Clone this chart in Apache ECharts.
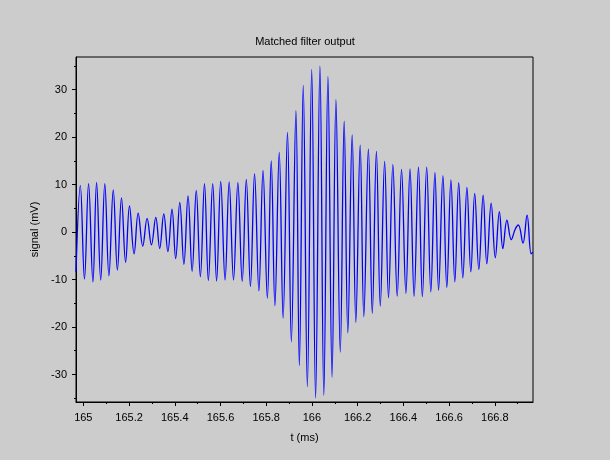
<!DOCTYPE html>
<html>
<head>
<meta charset="utf-8">
<script src="https://cdn.jsdelivr.net/npm/echarts@6/dist/echarts.min.js"></script>
<style>
html,body{margin:0;padding:0;background:#cccccc;}
#c{width:610px;height:460px;}
</style>
</head>
<body>
<div id="c"></div>
<script>
// time (ms) of each extremum
const times = [164.968,164.987,165.005,165.023,165.042,165.058,165.076,165.094,165.112,165.131,
165.149,165.167,165.185,165.202,165.222,165.240,165.260,165.279,165.298,165.317,
165.334,165.352,165.370,165.388,165.404,165.422,165.440,165.458,165.476,165.494,
165.512,165.530,165.547,165.566,165.583,165.601,165.620,165.638,165.657,165.676,
165.695,165.713,165.731,165.749,165.768,165.786,165.805,165.822,165.838,165.857,
165.874,165.893,165.910,165.930,165.945,165.962,165.980,165.999,166.016,166.035,
166.052,166.070,166.088,166.105,166.124,166.141,166.157,166.176,166.192,166.211,
166.227,166.247,166.264,166.282,166.299,166.318,166.335,166.354,166.373,166.392,
166.411,166.429,166.447,166.466,166.483,166.502,166.520,166.538,166.554,166.573,
166.590,166.608,166.625,166.642,166.660,166.678,166.695,166.712,166.730,166.749,
166.765,166.784,166.802,166.820,166.835,166.853,166.872,166.889,166.903,166.923,
166.941,166.959,166.966];
// signal (mV) at those times
const signal = [-8.4,9.8,-9.9,10.2,-10.5,10.5,-10.1,10.2,-9.2,8.9,
-8.0,7.2,-6.35,5.5,-4.6,4.0,-2.95,2.9,-2.7,3.1,
-3.45,3.85,-4.1,4.85,-5.6,6.25,-6.8,7.65,-8.25,8.8,
-9.4,10.2,-10.2,10.2,-10.3,10.7,-10.1,10.6,-10.1,10.4,
-10.4,11.1,-11.5,12.3,-12.4,13.0,-13.9,15.0,-15.5,16.8,
-18.1,21.0,-23.1,25.6,-28.15,30.9,-32.6,34.3,-35.0,35.0,
-34.4,32.8,-30.6,27.9,-25.3,23.4,-21.25,20.5,-19.0,18.35,
-17.8,17.5,-17.1,17.0,-15.6,14.9,-13.85,14.2,-13.5,13.2,
-12.9,13.3,-13.5,13.7,-13.6,13.7,-12.6,12.6,-12.25,11.9,
-11.7,11.0,-10.5,10.4,-9.65,9.4,-8.4,8.15,-7.9,7.8,
-6.7,6.1,-5.4,4.3,-3.5,2.5,-1.6,0.6,1.5,-2.3,
3.6,-4.6,-4.2];

const xMajorTicks = [165,165.2,165.4,165.6,165.8,166,166.2,166.4,166.6,166.8];
const xMinorTicks = [165.1,165.3,165.5,165.7,165.9,166.1,166.3,166.5,166.7,166.9];
const yMajorTicks = [-30,-20,-10,0,10,20,30];
const yMinorTicks = [-35,-25,-15,-5,5,15,25,35];

const X_MIN = 164.968, X_MAX = 166.967;
const Y_MIN = -35.8, Y_MAX = 36.9;

const font = 'Liberation Sans, Arial, sans-serif';
const chart = echarts.init(document.getElementById('c'), null, {renderer:'canvas'});
const pts = times.map((t,i)=>[t, signal[i]]);

chart.setOption({
  backgroundColor:'#cccccc',
  animation:false,
  title:{text:'Matched filter output', left:'center', top:31,
    textStyle:{fontFamily:font, fontSize:11, fontWeight:'normal', color:'#000'}},
  grid:{left:76, right:77, top:57, bottom:58, show:true, borderColor:'#000', borderWidth:1, backgroundColor:'transparent'},
  xAxis:[{
    type:'value', min:X_MIN, max:X_MAX, position:'bottom',
    name:'t (ms)', nameLocation:'middle', nameGap:30,
    nameTextStyle:{fontFamily:font, fontSize:11, color:'#000'},
    axisLine:{show:true, onZero:false, lineStyle:{color:'#000'}},
    axisTick:{show:true, length:4, customValues:xMajorTicks, lineStyle:{color:'#000'}},
    axisLabel:{customValues:xMajorTicks, margin:10, fontFamily:font, fontSize:11, color:'#000',
      formatter:v=>String(Math.round(v*10)/10)},
    splitLine:{show:false}
  },{
    type:'value', min:X_MIN, max:X_MAX, position:'bottom',
    axisLine:{show:false, onZero:false},
    axisTick:{show:true, length:2, customValues:xMinorTicks, lineStyle:{color:'#000'}},
    axisLabel:{show:false}, splitLine:{show:false}
  }],
  yAxis:[{
    type:'value', min:Y_MIN, max:Y_MAX, position:'left',
    name:'signal (mV)', nameLocation:'middle', nameGap:28,
    nameTextStyle:{fontFamily:font, fontSize:11, color:'#000'},
    axisLine:{show:true, onZero:false, lineStyle:{color:'#000'}},
    axisTick:{show:true, length:4, customValues:yMajorTicks, lineStyle:{color:'#000'}},
    axisLabel:{customValues:yMajorTicks, margin:9, fontFamily:font, fontSize:11, color:'#000'},
    splitLine:{show:false}
  },{
    type:'value', min:Y_MIN, max:Y_MAX, position:'left',
    axisLine:{show:false, onZero:false},
    axisTick:{show:true, length:2, customValues:yMinorTicks, lineStyle:{color:'#000'}},
    axisLabel:{show:false}, splitLine:{show:false}
  }],
  series:[{
    type:'line', xAxisIndex:0, yAxisIndex:0, data:pts, showSymbol:false, smooth:0.4,
    lineStyle:{color:'#0000ff', width:1.3}
  }]
});
</script>
</body>
</html>
